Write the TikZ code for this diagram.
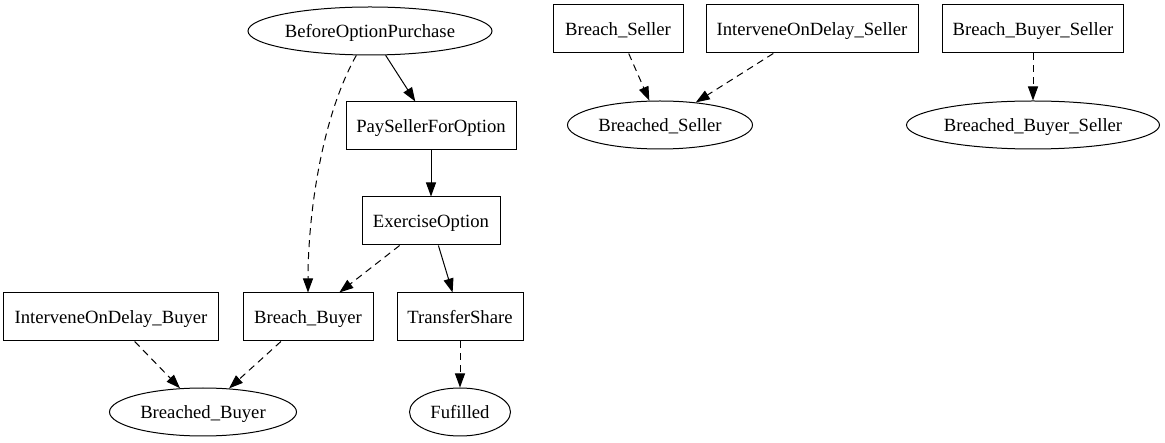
\documentclass[tikz,border=0pt]{standalone}
\usepackage{fontspec}
\setmainfont{Liberation Serif}
\usepackage{tikz}
\usetikzlibrary{positioning, shapes.geometric, arrows.meta}

\begin{document}
\begin{tikzpicture}[x=1pt, y=-1pt, line width=1pt,
    >={Triangle[length=14pt, width=10pt]},
    font=\fontsize{18.67}{22}\selectfont,
    box/.style={rectangle, draw, inner sep=0pt, minimum height=48pt, text depth=0pt},
    oval/.style={ellipse, draw, inner sep=0pt, minimum height=48pt, text depth=0pt},
    opt/.style={dashed, dash pattern=on 7pt off 5pt}]

\useasboundingbox (0,0) rectangle (1165,443);

% Buyer side
\node[oval, minimum width=244pt] (bop) at (370,31) {BeforeOptionPurchase};
\node[box, minimum width=170pt] (pay) at (431,126) {PaySellerForOption};
\node[box, minimum width=138pt] (ex) at (431,221) {ExerciseOption};
\node[box, minimum width=215pt] (idb) at (111,317) {InterveneOnDelay\_Buyer};
\node[box, minimum width=130pt] (bb) at (308,317) {Breach\_Buyer};
\node[box, minimum width=126pt] (ts) at (460,317) {TransferShare};
\node[oval, minimum width=187pt] (brb) at (203,412) {Breached\_Buyer};
\node[oval, minimum width=101pt] (ful) at (460,412) {Fufilled};

% Seller side
\node[box, minimum width=130pt] (bs) at (618,29) {Breach\_Seller};
\node[box, minimum width=212pt] (ids) at (812,29) {InterveneOnDelay\_Seller};
\node[box, minimum width=181pt] (bbs) at (1033,29) {Breach\_Buyer\_Seller};
\node[oval, minimum width=185pt] (brs) at (660,125) {Breached\_Seller};
\node[oval, minimum width=253pt] (brbs) at (1033,125) {Breached\_Buyer\_Seller};

% Normal flow
\draw[->] (bop) -- (pay);
\draw[->] (pay) -- (ex);
\draw[->] (ex) -- (ts);

% Breaches
\draw[opt, ->] (bop) .. controls (320,120) and (308,220) .. (bb);
\foreach \a/\b in {ex/bb, ts/ful, idb/brb, bb/brb, bs/brs, ids/brs, bbs/brbs} {
    \draw[opt, ->] (\a) -- (\b);
}

\end{tikzpicture}
\end{document}
